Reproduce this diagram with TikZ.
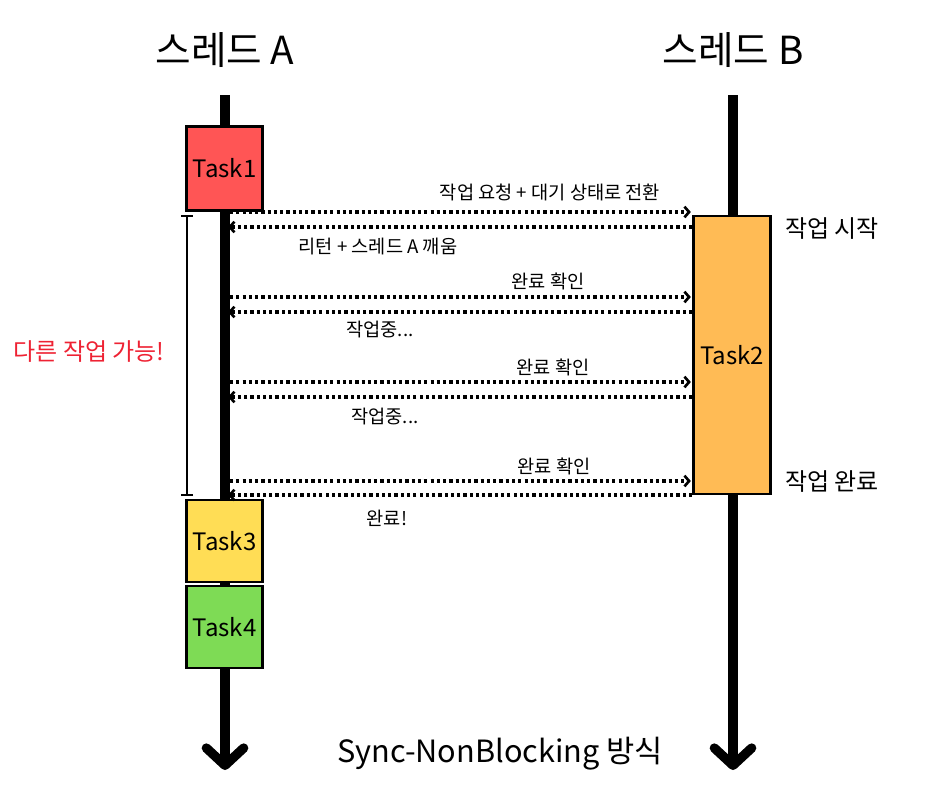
\documentclass[tikz,border=0pt]{standalone}
\usepackage{fontspec}
\setmainfont{Noto Sans CJK KR}
\usepackage{xcolor}
\usetikzlibrary{arrows.meta}

\definecolor{taskred}{HTML}{FF5555}
\definecolor{taskorange}{HTML}{FFBB55}
\definecolor{taskyellow}{HTML}{FFDD55}
\definecolor{taskgreen}{HTML}{7EDB55}
\definecolor{noteRed}{HTML}{EE2233}

\begin{document}
\begin{tikzpicture}[x=0.75pt, y=-0.75pt,
    lifeline/.style={line width=7pt, -{Straight Barb[length=13pt, width=28pt, round]}},
    taskbox/.style={draw=black, line width=2.2pt, minimum width=57.5pt, font=\fontsize{18}{21}\selectfont},
    msg/.style={line width=2.5pt, dash pattern=on 2.4pt off 2.3pt, -{Straight Barb[length=3.5pt, width=8pt, line width=2pt]}},
    msglabel/.style={font=\fontsize{14}{16}\selectfont},
    title/.style={font=\fontsize{29}{34}\selectfont},
    sidelabel/.style={font=\fontsize{18}{21}\selectfont}]
    \useasboundingbox (0,0) rectangle (930,800);

    % Threads
    \node[title] (thrA) at (225,50) {스레드 A};
    \node[title] (thrB) at (733,50) {스레드 B};
    \coordinate (topA) at (225,95);
    \coordinate (endA) at (225,770);
    \coordinate (topB) at (733,95);
    \coordinate (endB) at (733,770);
    \draw[lifeline] (topA) -- (endA);
    \draw[lifeline] (topB) -- (endB);

    % Tasks
    \node[taskbox, fill=taskred, minimum height=63.5pt] (task1) at (224.5,168.5) {Task1};
    \node[taskbox, fill=taskorange, minimum height=208.5pt] (task2) at (732,355) {Task2};
    \node[taskbox, fill=taskyellow, minimum height=61.5pt] (task3) at (224.5,541) {Task3};
    \node[taskbox, fill=taskgreen, minimum height=61.5pt] (task4) at (224.5,627) {Task4};

    % Free time of thread A
    \coordinate (spanTop) at (187,215);
    \coordinate (spanBot) at (187,496);
    \draw[line width=1.4pt, {Bar[width=9pt]}-{Bar[width=9pt]}] (spanTop) -- (spanBot);
    \node[sidelabel, text=noteRed] (freeNote) at (89,352) {다른 작업 가능!};

    % Messages
    \coordinate (a1) at (230,212);
    \coordinate (a2) at (228,227);
    \coordinate (a3) at (230,297);
    \coordinate (a4) at (228,312);
    \coordinate (a5) at (230,382);
    \coordinate (a6) at (228,397);
    \coordinate (a7) at (230,481);
    \coordinate (a8) at (228,495);
    \draw[msg] (a1) -- ([xshift=-1pt]a1 -| task2.west);
    \draw[msg] (a2 -| task2.west) -- (a2);
    \draw[msg] (a3) -- ([xshift=-1pt]a3 -| task2.west);
    \draw[msg] (a4 -| task2.west) -- (a4);
    \draw[msg] (a5) -- ([xshift=-1pt]a5 -| task2.west);
    \draw[msg] (a6 -| task2.west) -- (a6);
    \draw[msg] (a7) -- ([xshift=-1pt]a7 -| task2.west);
    \draw[msg] (a8 -| task2.west) -- (a8);

    \node[msglabel] (m1) at (550,192) {작업 요청 + 대기 상태로 전환};
    \node[msglabel] (m2) at (378,247) {리턴 + 스레드 A 깨움};
    \node[msglabel] (m3) at (548,281) {완료 확인};
    \node[msglabel] (m4) at (380,330) {작업중...};
    \node[msglabel] (m5) at (553,367) {완료 확인};
    \node[msglabel] (m6) at (385,416) {작업중...};
    \node[msglabel] (m7) at (554,466) {완료 확인};
    \node[msglabel] (m8) at (387,518) {완료!};

    % Task2 states
    \node[sidelabel] (start) at (832,229) {작업 시작};
    \node[sidelabel] (done) at (832,482) {작업 완료};

    % Caption
    \node[font=\fontsize{23}{27}\selectfont] (caption) at (500,754) {Sync-NonBlocking 방식};
\end{tikzpicture}
\end{document}
